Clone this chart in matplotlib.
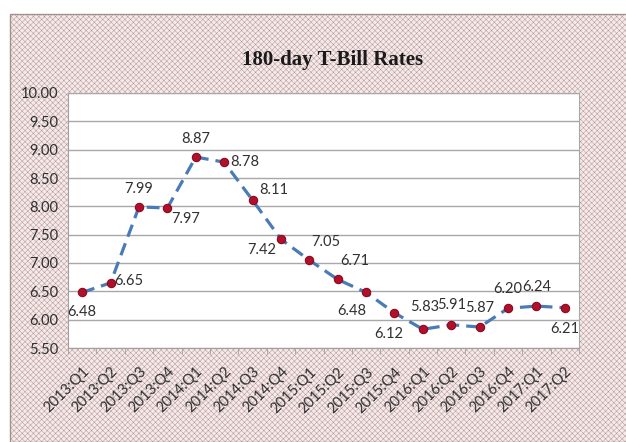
import matplotlib
matplotlib.use("Agg")
import matplotlib.pyplot as plt
from matplotlib.patches import Rectangle
from matplotlib import rcParams

rcParams['hatch.linewidth'] = 0.3
rcParams['hatch.color'] = '#ecd0d0'

quarters = ["2013:Q1", "2013:Q2", "2013:Q3", "2013:Q4",
            "2014:Q1", "2014:Q2", "2014:Q3", "2014:Q4",
            "2015:Q1", "2015:Q2", "2015:Q3", "2015:Q4",
            "2016:Q1", "2016:Q2", "2016:Q3", "2016:Q4",
            "2017:Q1", "2017:Q2"]
rates = [6.48, 6.65, 7.99, 7.97, 8.87, 8.78, 8.11, 7.42, 7.05,
         6.71, 6.48, 6.12, 5.83, 5.91, 5.87, 6.20, 6.24, 6.21]
y_ticks = [5.50, 6.00, 6.50, 7.00, 7.50, 8.00, 8.50, 9.00, 9.50, 10.00]

# label offsets (points) for data labels
offsets = [(0, -14), (13, 1), (0, 13), (13, -8), (0, 13), (15, 0),
           (15, 7), (-14, -8), (12, 13), (12, 13), (-10, -13), (-4, -15),
           (1, 16), (0, 14), (0, 14), (0, 14), (0, 14), (0, -15)]

narrow = ['Lato', 'DejaVu Sans']

fig = plt.figure(figsize=(6.26, 4.42), dpi=100)
fig.patch.set_facecolor('white')
bg = Rectangle((10/626, 0), 1.0, 1 - 14/442, transform=fig.transFigure,
               facecolor='#f8e8e8', edgecolor='#a09090', linewidth=1.0,
               hatch='xxxxxx', zorder=-5)
fig.patches.append(bg)

ax = fig.add_axes([68/626, 1 - 348/442, (579 - 68)/626, (348 - 93)/442])
ax.set_zorder(5)
ax.set_facecolor('white')
x = list(range(len(rates)))
ax.plot(x, rates, linestyle=(0, (4, 2.2)), color='#4a7bb7', linewidth=2.3,
        marker='o', markersize=6, markerfacecolor='#b0102a',
        markeredgecolor='#8a0a20', markeredgewidth=0.8, zorder=3)

for i, v in enumerate(rates):
    dx, dy = offsets[i]
    ax.annotate(f"{v:.2f}", (i, v), xytext=(dx, dy), textcoords='offset points',
                ha='center', va='center', fontsize=10.5, family=narrow,
                color='#303030')

ax.set_xlim(-0.5, len(rates) - 0.5)
ax.set_ylim(5.5, 10.0)
ax.set_yticks(y_ticks)
ax.set_yticklabels([f"{t:.2f}" for t in y_ticks], family=narrow, fontsize=10.5,
                   color='#303030')
ax.tick_params(axis='y', length=0, pad=7)
ax.yaxis.grid(True, color='#a8a8a8', linewidth=1.0)
ax.set_axisbelow(True)

ax.set_xticks(x)
ax.set_xticklabels(quarters, rotation=45, ha='right', rotation_mode='anchor',
                   family=narrow, fontsize=10.5, color='#303030')
ax.tick_params(axis='x', length=0, pad=12)
ax.set_xticks([i - 0.5 for i in range(len(rates) + 1)], minor=True)
ax.tick_params(axis='x', which='minor', length=4, color='#a0a0a0')

for s in ['top', 'right']:
    ax.spines[s].set_color('#a8a8a8')
for s in ['left', 'bottom']:
    ax.spines[s].set_color('#a0a0a0')

fig.text(333/626, 1 - 60/442, "180-day T-Bill Rates", ha='center', va='center',
         family=['Liberation Serif', 'DejaVu Serif'], fontweight='bold',
         fontsize=15, color='#1a1a1a')

fig.savefig('out.png', dpi=100)
